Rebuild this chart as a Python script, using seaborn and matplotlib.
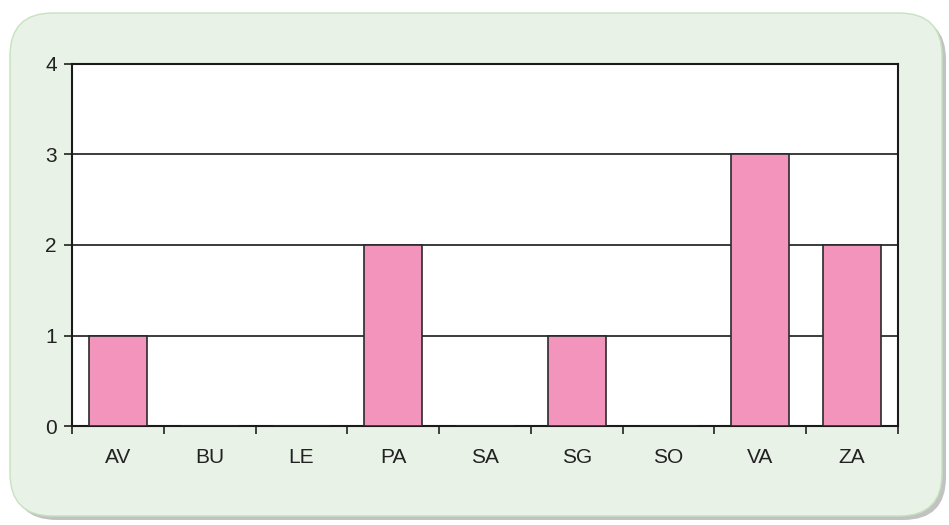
import numpy as np
import pandas as pd
import seaborn as sns
import matplotlib.pyplot as plt
from matplotlib.patches import FancyBboxPatch

# Data
categories = ["AV", "BU", "LE", "PA", "SA", "SG", "SO", "VA", "ZA"]
counts = [1, 0, 0, 2, 0, 1, 0, 3, 2]

df = pd.DataFrame({"cat": categories, "n": counts})

sns.set_theme(style="white")
plt.rcParams["font.family"] = ["Liberation Sans", "DejaVu Sans"]

fig = plt.figure(figsize=(9.49, 5.25), dpi=100)
fig.patch.set_facecolor("white")

# rounded green panel with a soft shadow
shadow = FancyBboxPatch((14 / 949, 5 / 525), 932 / 949, 503 / 525,
                        boxstyle="round,pad=0,rounding_size=0.045",
                        transform=fig.transFigure, facecolor="#9a9a9a",
                        edgecolor="none", alpha=0.6, zorder=0,
                        mutation_aspect=949 / 525)
panel = FancyBboxPatch((10 / 949, 9 / 525), 932 / 949, 503 / 525,
                       boxstyle="round,pad=0,rounding_size=0.045",
                       transform=fig.transFigure, facecolor="#e8f2e6",
                       edgecolor="#c6e2c0", linewidth=1, zorder=1,
                       mutation_aspect=949 / 525)
fig.patches.extend([shadow, panel])

ax = fig.add_axes([72 / 949, 99 / 525, 826 / 949, 362 / 525])
ax.set_facecolor("white")
ax.set_zorder(2)

sns.barplot(data=df, x="cat", y="n", ax=ax, color="#f294bc", width=0.63,
            edgecolor="#2a2a2a", linewidth=1.2, saturation=1, zorder=3)

ax.set_xlim(-0.5, len(categories) - 0.5)
ax.set_ylim(0, 4)
ax.set_yticks([0, 1, 2, 3, 4])
for y in [1, 2, 3]:
    ax.axhline(y, color="#1a1a1a", linewidth=1.2, zorder=1)

# tick marks sit on category boundaries
ax.set_xticks(np.arange(-0.5, len(categories), 1), minor=True)
ax.tick_params(axis="x", which="major", length=0, pad=16, labelsize=15, colors="#222222")
ax.tick_params(axis="x", which="minor", length=6, width=1.2, color="#222222", direction="out", bottom=True)
ax.tick_params(axis="y", length=6, width=1.2, color="#222222", direction="out", left=True,
               labelsize=15, labelcolor="#222222", pad=5)

for s in ax.spines.values():
    s.set_color("#1a1a1a")
    s.set_linewidth(1.5)

ax.set_xlabel("")
ax.set_ylabel("")

fig.savefig("out.png", dpi=100, facecolor=fig.get_facecolor())
